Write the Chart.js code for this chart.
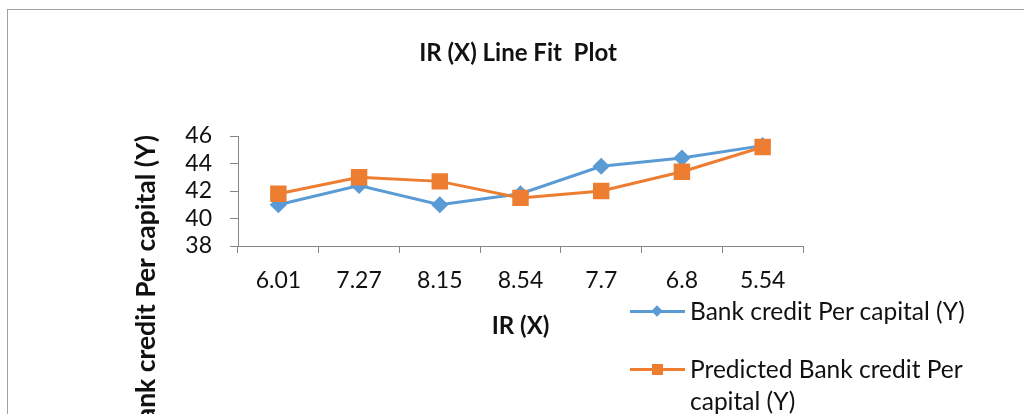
<!DOCTYPE html>
<html>
<head>
<meta charset="utf-8">
<script src="https://cdn.jsdelivr.net/npm/chart.js@4.4.1/dist/chart.umd.min.js"></script>
<style>
    html, body { margin: 0; padding: 0; background: #fff; overflow: hidden; }
    #wrap { position: relative; width: 1024px; height: 414px; overflow: hidden; }
    #frame {
        position: absolute; left: 7px; top: 9px; width: 1200px; height: 600px;
        border: 1px solid #a0a0a0; box-sizing: border-box;
    }
    #chart { position: absolute; left: 0; top: 0; }
    #legend { position: absolute; left: 630px; top: 0; font-family: Lato, "Liberation Sans", sans-serif; font-size: 24.5px; color: #111; }
    .item { position: absolute; left: 0; width: 380px; }
    .swatch { position: absolute; left: 0; width: 55px; height: 3px; }
    .mark { position: absolute; }
    .txt { position: absolute; left: 60px; width: 300px; line-height: 32px; white-space: normal; }
</style>
</head>
<body>
<div id="wrap">
    <div id="frame"></div>
    <canvas id="chart" width="1024" height="414"></canvas>
    <div id="legend"></div>
</div>
<script>
    const categories = ['6.01', '7.27', '8.15', '8.54', '7.7', '6.8', '5.54'];
    const bankCredit = [41.0, 42.4, 41.0, 41.8, 43.8, 44.4, 45.3];
    const predicted = [41.8, 43.0, 42.7, 41.5, 42.0, 43.4, 45.2];
    const seriesNames = ['Bank credit Per capital (Y)', 'Predicted Bank credit Per capital (Y)'];
    const seriesColors = ['#5b9bd5', '#ed7d31'];
    const chartTitle = 'IR (X) Line Fit  Plot';

    const FONT = 'Lato, "Liberation Sans", sans-serif';
    const AXIS = '#868686';

    // chart title and y axis title; the y title runs off the bottom edge like the original
    const titlesPlugin = {
        id: 'titles',
        afterDraw(chart) {
            const ctx = chart.ctx;
            ctx.save();
            ctx.font = 'bold 24px ' + FONT;
            ctx.fillStyle = '#111';
            ctx.textAlign = 'center';
            ctx.textBaseline = 'middle';
            ctx.fillText(chartTitle, 518, 53);

            ctx.translate(155, 135);
            ctx.rotate(-Math.PI / 2);
            ctx.font = 'bold 26.5px ' + FONT;
            ctx.textAlign = 'right';
            ctx.textBaseline = 'alphabetic';
            ctx.fillText(seriesNames[0], 0, 0);
            ctx.restore();
        }
    };

    const chart = new Chart(document.getElementById('chart'), {
        type: 'line',
        data: {
            labels: categories,
            datasets: [{
                label: seriesNames[0],
                data: bankCredit,
                borderColor: seriesColors[0],
                backgroundColor: seriesColors[0],
                borderWidth: 3,
                pointStyle: 'rectRot',
                pointRadius: 6.5,
                pointHoverRadius: 6.5,
                tension: 0,
                order: 1,
            }, {
                label: seriesNames[1],
                data: predicted,
                borderColor: seriesColors[1],
                backgroundColor: seriesColors[1],
                borderWidth: 3,
                pointStyle: 'rect',
                pointRadius: 9.5,
                pointHoverRadius: 9.5,
                tension: 0,
                order: 0,
            }],
        },
        options: {
            responsive: false,
            animation: false,
            events: [],
            layout: { padding: { left: 0, right: 221, top: 136, bottom: 69 } },
            plugins: {
                legend: { display: false },
                tooltip: { enabled: false },
                title: { display: false },
            },
            scales: {
                x: {
                    offset: true,
                    grid: { offset: true, drawOnChartArea: false, color: AXIS, tickLength: 7 },
                    border: { color: AXIS, width: 1 },
                    ticks: { color: '#111', padding: 14, autoSkip: false, maxRotation: 0, font: { family: FONT, size: 23 } },
                    title: {
                        display: true,
                        text: 'IR (X)',
                        color: '#111',
                        font: { family: FONT, size: 24, weight: 'bold', lineHeight: 1.2 },
                        padding: { top: 4, bottom: 4 },
                    },
                    afterFit(scale) { scale.height = 99; },
                },
                y: {
                    min: 38,
                    max: 46,
                    grid: { drawOnChartArea: false, color: AXIS, tickLength: 8 },
                    border: { color: AXIS, width: 1 },
                    ticks: { stepSize: 2, autoSkip: false, color: '#111', padding: 18, font: { family: FONT, size: 23 } },
                    afterFit(scale) { scale.width = 238; },
                },
            },
        },
        plugins: [titlesPlugin],
    });

    // legend drawn as html so the long label can wrap like the original
    const legend = document.getElementById('legend');
    const legendY = [311, 369];
    seriesNames.forEach(function (name, i) {
        const item = document.createElement('div');
        item.className = 'item';
        item.style.top = legendY[i] + 'px';

        const line = document.createElement('div');
        line.className = 'swatch';
        line.style.top = '-1.5px';
        line.style.background = seriesColors[i];
        item.appendChild(line);

        const mark = document.createElement('div');
        mark.className = 'mark';
        mark.style.background = seriesColors[i];
        if (i === 0) {
            mark.style.width = '8px';
            mark.style.height = '8px';
            mark.style.left = '23px';
            mark.style.top = '-4px';
            mark.style.transform = 'rotate(45deg)';
        } else {
            mark.style.width = '11px';
            mark.style.height = '11px';
            mark.style.left = '22px';
            mark.style.top = '-5.5px';
        }
        item.appendChild(mark);

        const txt = document.createElement('div');
        txt.className = 'txt';
        txt.style.top = '-16px';
        txt.textContent = name;
        item.appendChild(txt);

        legend.appendChild(item);
    });
</script>
</body>
</html>
